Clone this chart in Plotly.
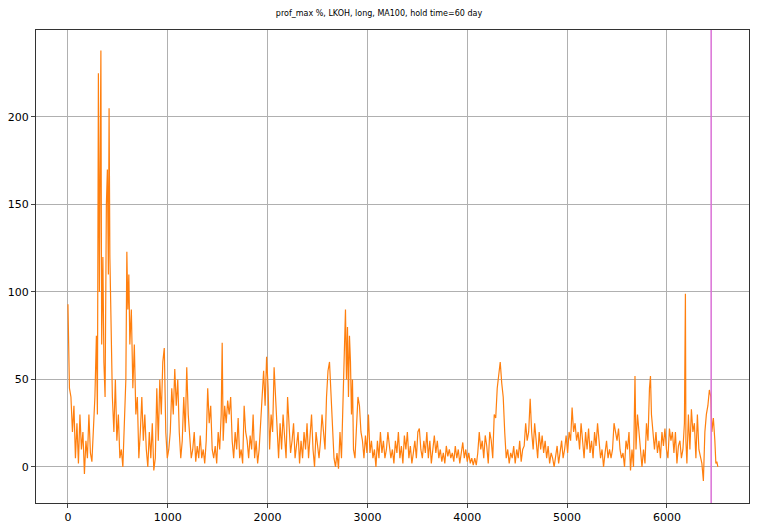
import plotly.graph_objects as go

pairs_text = """0 93, 15 45, 30 40, 45 20, 60 35, 75 5, 90 25, 105 2, 120 30, 135 10, 150 20, 165 -4, 180 15, 195 5, 210 30, 225 8, 240 3, 255 20, 270 40, 285 75, 295 30, 305 225, 315 100, 322 165, 330 238, 338 70, 350 120, 360 60, 372 40, 385 150, 395 170, 405 110, 412 205, 420 120, 430 80, 445 40, 460 20, 475 50, 490 15, 505 30, 520 5, 535 10, 550 0, 565 30, 580 50, 590 123, 600 90, 610 110, 620 70, 635 90, 650 45, 665 70, 680 30, 695 40, 710 5, 725 20, 740 40, 755 15, 770 30, 785 10, 800 0, 815 20, 830 5, 845 25, 860 -2, 875 5, 890 45, 905 15, 920 50, 935 30, 950 60, 965 68, 980 20, 995 5, 1010 10, 1025 20, 1040 45, 1055 30, 1070 56, 1085 35, 1100 50, 1115 20, 1130 5, 1145 15, 1160 40, 1175 20, 1190 57, 1205 30, 1220 15, 1235 5, 1250 10, 1265 20, 1280 3, 1295 12, 1310 5, 1325 18, 1340 5, 1355 10, 1370 2, 1385 15, 1400 45, 1415 25, 1430 35, 1445 10, 1460 5, 1475 12, 1490 2, 1505 20, 1520 10, 1535 30, 1545 71, 1555 15, 1570 35, 1585 25, 1600 38, 1615 30, 1630 40, 1645 15, 1660 5, 1675 20, 1690 10, 1705 28, 1720 5, 1735 10, 1750 2, 1765 35, 1780 20, 1795 15, 1810 5, 1825 18, 1840 10, 1855 30, 1870 5, 1885 15, 1900 2, 1915 10, 1930 25, 1945 40, 1960 55, 1975 35, 1990 63, 2005 45, 2020 10, 2035 30, 2050 20, 2065 57, 2080 40, 2095 20, 2110 5, 2125 25, 2140 10, 2155 30, 2170 15, 2185 5, 2200 40, 2215 20, 2230 8, 2245 15, 2260 25, 2275 5, 2290 12, 2305 20, 2320 2, 2335 15, 2350 5, 2365 20, 2380 10, 2395 25, 2410 5, 2425 15, 2440 30, 2455 10, 2470 0, 2485 20, 2500 10, 2515 5, 2530 15, 2545 30, 2560 20, 2575 10, 2590 40, 2605 55, 2620 60, 2635 40, 2650 20, 2665 5, 2680 0, 2695 8, 2710 -1, 2725 20, 2740 5, 2755 40, 2770 60, 2780 90, 2790 50, 2800 80, 2810 40, 2820 75, 2830 60, 2840 30, 2850 50, 2860 10, 2875 5, 2890 20, 2905 40, 2920 35, 2935 20, 2950 15, 2965 5, 2980 18, 2995 8, 3010 30, 3025 8, 3040 15, 3055 5, 3070 10, 3085 0, 3100 15, 3115 5, 3130 20, 3145 8, 3160 15, 3175 5, 3190 10, 3205 20, 3220 12, 3235 5, 3250 10, 3265 2, 3280 15, 3295 8, 3310 20, 3325 5, 3340 12, 3355 2, 3370 18, 3385 10, 3400 20, 3415 5, 3430 12, 3445 2, 3460 8, 3475 15, 3490 5, 3505 20, 3520 22, 3535 10, 3550 5, 3565 15, 3580 8, 3595 20, 3610 5, 3625 15, 3640 2, 3655 10, 3670 18, 3685 8, 3700 15, 3715 5, 3730 10, 3745 3, 3760 8, 3775 2, 3790 12, 3805 6, 3820 10, 3835 5, 3850 8, 3865 3, 3880 12, 3895 5, 3910 10, 3925 2, 3940 8, 3955 14, 3970 5, 3985 10, 4000 3, 4015 8, 4030 2, 4045 5, 4060 1, 4075 5, 4090 1, 4105 8, 4120 20, 4135 10, 4150 15, 4165 5, 4180 18, 4195 12, 4210 2, 4225 20, 4240 15, 4255 5, 4270 30, 4285 28, 4300 45, 4315 55, 4330 60, 4345 48, 4360 40, 4375 20, 4390 5, 4405 10, 4420 2, 4435 8, 4450 5, 4465 12, 4480 2, 4495 10, 4510 5, 4525 15, 4540 3, 4555 10, 4570 12, 4585 25, 4600 15, 4615 20, 4630 39, 4645 20, 4660 10, 4675 25, 4690 15, 4705 5, 4720 20, 4735 10, 4750 18, 4765 8, 4780 15, 4795 5, 4810 12, 4825 2, 4840 8, 4855 5, 4870 0, 4885 5, 4900 12, 4915 2, 4930 8, 4945 15, 4960 5, 4975 10, 4990 18, 5005 8, 5020 20, 5035 15, 5050 34, 5065 20, 5080 25, 5095 15, 5110 20, 5125 10, 5140 25, 5155 15, 5170 5, 5185 20, 5200 10, 5215 22, 5230 8, 5245 15, 5260 5, 5275 20, 5290 12, 5305 25, 5320 15, 5335 5, 5350 10, 5365 0, 5380 8, 5395 15, 5410 5, 5425 10, 5440 5, 5455 10, 5470 25, 5485 20, 5500 15, 5515 22, 5530 10, 5545 5, 5560 8, 5575 0, 5590 15, 5605 10, 5620 20, 5635 -2, 5650 10, 5665 0, 5680 52, 5690 10, 5705 30, 5720 20, 5735 12, 5750 0, 5765 10, 5780 2, 5795 25, 5810 15, 5825 45, 5835 52, 5845 30, 5860 22, 5875 10, 5890 20, 5905 8, 5920 15, 5935 5, 5950 20, 5965 12, 5980 22, 5995 10, 6010 5, 6025 22, 6040 15, 6055 20, 6070 8, 6085 20, 6100 2, 6115 12, 6130 15, 6145 5, 6160 10, 6175 25, 6185 99, 6190 15, 6200 2, 6215 30, 6230 10, 6245 33, 6260 20, 6275 25, 6290 5, 6305 30, 6320 10, 6335 5, 6350 2, 6365 -8, 6380 20, 6395 30, 6410 35, 6425 44, 6440 40, 6450 20, 6465 28, 6480 15, 6490 2, 6500 3, 6510 0"""

day_index = [float(p.split()[0]) for p in pairs_text.split(",")]
prof_max = [float(p.split()[1]) for p in pairs_text.split(",")]
marker_x = 6443
title = "prof_max %, LKOH, long, MA100, hold time=60 day"

fig = go.Figure()
fig.add_trace(go.Scatter(x=day_index, y=prof_max, mode="lines",
                         line=dict(color="#ff7f0e", width=1.2), showlegend=False))
fig.add_shape(type="line", x0=marker_x, x1=marker_x, y0=0, y1=1, yref="paper",
              line=dict(color="#da70d6", width=1.5))
fig.update_layout(
    width=742, height=521, paper_bgcolor="white", plot_bgcolor="white",
    margin=dict(l=28, r=1, t=22, b=26, autoexpand=False),
    title=dict(text=title, x=0.5, xanchor="center", y=0.995, yanchor="top",
               font=dict(family="DejaVu Sans", size=8, color="black")),
    font=dict(family="DejaVu Sans", size=11, color="black"),
)
ax = dict(showgrid=True, gridcolor="#b0b0b0", gridwidth=1, showline=True, linecolor="#333333",
          mirror=True, ticks="outside", ticklen=4, zeroline=False, automargin=False)
fig.update_xaxes(range=[-320, 6822], tickvals=[0, 1000, 2000, 3000, 4000, 5000, 6000], **ax)
fig.update_yaxes(range=[-20.6, 249.7], tickvals=[0, 50, 100, 150, 200], **ax)
fig.write_html("out.html")
